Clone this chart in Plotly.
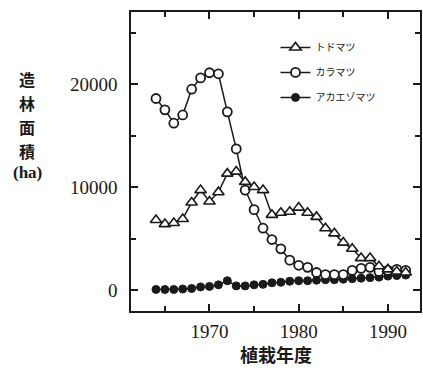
import plotly.graph_objects as go

years = list(range(1964, 1993))
todomatsu = [6800, 6400, 6500, 6900, 8500, 9700, 8600, 9500, 11300, 11500, 10500, 10000, 9700,
             7300, 7500, 7600, 8000, 7500, 7100, 6000, 5500, 4600, 4000, 3100, 3100, 2300, 2000, 1800, 1700]
karamatsu = [18600, 17500, 16200, 17000, 19500, 20600, 21100, 21000, 17300, 13700, 9700, 7800, 6000,
             4900, 4000, 2900, 2400, 2200, 1700, 1500, 1500, 1500, 1900, 2100, 2200, 1800, 1900, 2000, 1900]
akaezomatsu = [50, 50, 50, 100, 150, 300, 350, 500, 900, 400, 400, 500, 550,
               700, 750, 850, 900, 900, 950, 1000, 1000, 1050, 1100, 1150, 1200, 1250, 1350, 1400, 1450]
names = ["トドマツ", "カラマツ", "アカエゾマツ"]
x_ticks = [1970, 1980, 1990]
x_minor = [1965, 1975, 1985]
y_ticks = [0, 10000, 20000]
y_labels = ["0", "10000", "20000"]
y_minor = [5000, 15000, 25000]
x_range = [1961.2, 1993.6]
y_range = [-2040, 27000]

INK = "#1a1a1a"
fig = go.Figure()
fig.add_trace(go.Scatter(x=years, y=akaezomatsu, name=names[2], mode="lines+markers",
                         line=dict(color=INK, width=1.5),
                         marker=dict(symbol="circle", size=8, color=INK, line=dict(color=INK, width=1)),
                         legendgroup="c", legendrank=3))
fig.add_trace(go.Scatter(x=years, y=karamatsu, name=names[1], mode="lines+markers",
                         line=dict(color=INK, width=1.5),
                         marker=dict(symbol="circle", size=9, color="white", line=dict(color=INK, width=1.8)),
                         legendgroup="b", legendrank=2))
fig.add_trace(go.Scatter(x=years, y=todomatsu, name=names[0], mode="lines+markers",
                         line=dict(color=INK, width=1.5),
                         marker=dict(symbol="triangle-up", size=10, color="white", line=dict(color=INK, width=1.6)),
                         legendgroup="a", legendrank=1))
# invisible helper trace so the mirrored top/right tick axes are drawn
fig.add_trace(go.Scatter(x=years, y=akaezomatsu, xaxis="x2", yaxis="y2", mode="lines",
                         line=dict(width=0), opacity=0, showlegend=False, hoverinfo="skip"))

serif = "Liberation Serif"
tick_common = dict(ticks="inside", ticklen=7, tickwidth=1.5, tickcolor=INK,
                   showgrid=False, zeroline=False)
fig.update_layout(
    width=423, height=370,
    margin=dict(l=131, r=1, t=12, b=59),
    paper_bgcolor="white", plot_bgcolor="white",
    showlegend=True,
    legend=dict(x=0.5, y=0.93, xanchor="left", yanchor="top",
                bgcolor="rgba(0,0,0,0)", font=dict(family="Noto Sans CJK JP", size=10, color=INK),
                tracegroupgap=6, itemsizing="trace"),
    xaxis=dict(range=x_range, tickvals=x_ticks, **tick_common,
               minor=dict(tickvals=x_minor, ticks="inside", ticklen=5, tickwidth=1.5, tickcolor=INK),
               showline=True, linecolor=INK, linewidth=1.5, mirror=True,
               tickfont=dict(family=serif, size=19, color=INK), ticklabelstandoff=2),
    yaxis=dict(range=y_range, tickvals=y_ticks, ticktext=y_labels, **tick_common,
               minor=dict(tickvals=y_minor, ticks="inside", ticklen=5, tickwidth=1.5, tickcolor=INK),
               showline=True, linecolor=INK, linewidth=1.5, mirror=True,
               tickfont=dict(family=serif, size=19, color=INK), ticklabelstandoff=8),
    xaxis2=dict(range=x_range, overlaying="x", side="top", tickvals=x_ticks, showticklabels=False,
                **tick_common, showline=False,
                minor=dict(tickvals=x_minor, ticks="inside", ticklen=5, tickwidth=1.5, tickcolor=INK)),
    yaxis2=dict(range=y_range, overlaying="y", side="right", tickvals=y_ticks, showticklabels=False,
                **tick_common, showline=False,
                minor=dict(tickvals=y_minor, ticks="inside", ticklen=5, tickwidth=1.5, tickcolor=INK)),
    annotations=[
        dict(text="<b>植栽年度</b>", xref="paper", yref="paper", x=0.5, y=(311 - 354) / 299,
             xanchor="center", yanchor="middle", showarrow=False,
             font=dict(family="Noto Sans CJK JP", size=18, color=INK)),
    ],
)
# vertical y-axis title, one glyph per line
ytitle_chars = ["造", "林", "面", "積"]
ytitle_px = [79, 103, 127, 151]
for ch, py in zip(ytitle_chars, ytitle_px):
    fig.add_annotation(text=f"<b>{ch}</b>", xref="paper", yref="paper",
                       x=(26 - 131) / 291, y=(311 - py) / 299, xanchor="center", yanchor="middle",
                       showarrow=False, font=dict(family="Noto Sans CJK JP", size=16, color=INK))
fig.add_annotation(text="<b>(ha)</b>", xref="paper", yref="paper",
                   x=(27 - 131) / 291, y=(311 - 172) / 299, xanchor="center", yanchor="middle",
                   showarrow=False, font=dict(family=serif, size=17, color=INK))
fig.write_html("out.html")
